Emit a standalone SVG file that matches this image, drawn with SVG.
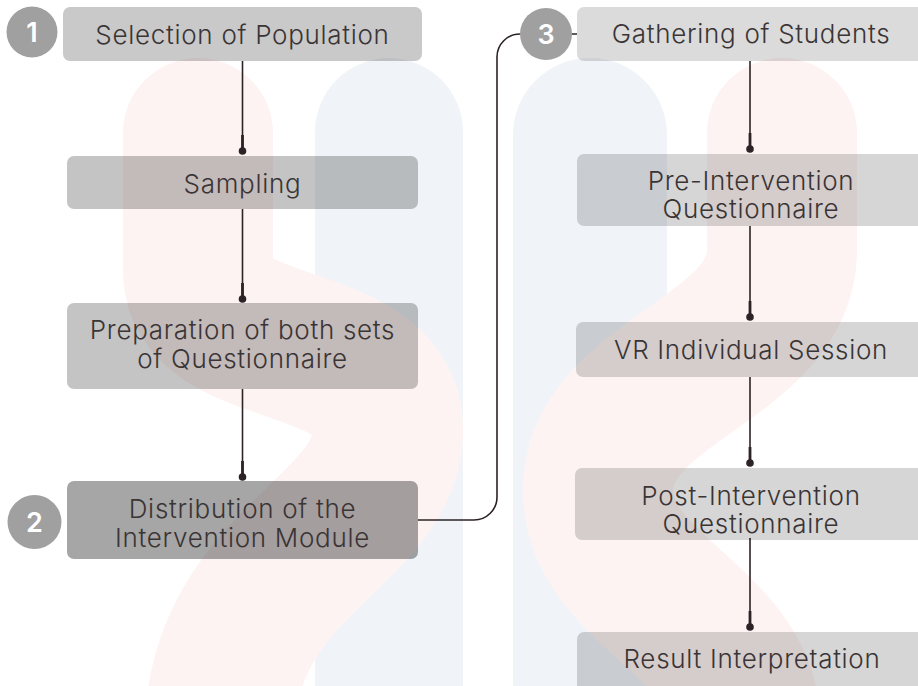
<svg xmlns="http://www.w3.org/2000/svg" width="918" height="686" viewBox="0 0 918 686">
  <style>
    .box { fill: #000; }
    .lbl { font-family: Inter, "Noto Sans", sans-serif; font-weight: 300; font-size: 26px; letter-spacing: 0.7px; fill: #3a3435; text-anchor: middle; }
    .num { fill: #a0a0a0; }
    .numt { font-family: Inter, "Liberation Sans", sans-serif; font-weight: 600; font-size: 27px; fill: #ffffff; text-anchor: middle; }
    .conn { fill: none; stroke: #2b2325; stroke-width: 1.6; }
    .pink { fill: none; stroke: #fef3f3; stroke-width: 150; stroke-linecap: round; }
    .blue { fill: #f0f4f8; }
  </style>
  <defs>
    <marker id="dot" markerUnits="userSpaceOnUse" viewBox="-20 -6 26 12" refX="0" refY="0" markerWidth="26" markerHeight="12" orient="auto">
      <rect x="-16" y="-1.4" width="16" height="2.8" fill="#2b2325"/>
      <circle cx="0" cy="0" r="3.8" fill="#2b2325"/>
    </marker>
  </defs>
  <rect width="918" height="686" fill="#ffffff"/>
  <g id="background">
    <rect class="blue" x="315" y="58" width="148" height="700" rx="74"/>
    <rect class="blue" x="513" y="58" width="154" height="700" rx="77"/>
    <path class="pink" d="M198,133 L198,270 C198,360 388,330 388,430 C388,530 230,560 220,720"/>
    <path class="pink" d="M782,133 L782,250 C782,360 598,380 598,490 C598,590 740,620 745,720"/>
  </g>
  <g id="connectors">
    <path class="conn" d="M242.5,61 V151" marker-end="url(#dot)"/>
    <path class="conn" d="M242.5,209 V299" marker-end="url(#dot)"/>
    <path class="conn" d="M242.5,389 V477" marker-end="url(#dot)"/>
    <path class="conn" d="M418,520 H474 A23,23 0 0 0 497,497 V57 A23,23 0 0 1 520,34 H577"/>
    <path class="conn" d="M750,61 V149" marker-end="url(#dot)"/>
    <path class="conn" d="M750,226 V317" marker-end="url(#dot)"/>
    <path class="conn" d="M750,377 V463" marker-end="url(#dot)"/>
    <path class="conn" d="M750,538 V627" marker-end="url(#dot)"/>
  </g>
  <g id="n1">
    <rect class="box" x="63" y="7" width="359" height="54" rx="7" fill-opacity="0.21"/>
    <text class="lbl" x="242.5" y="44">Selection of Population</text>
  </g>
  <g id="n2">
    <rect class="box" x="67" y="156" width="351" height="53" rx="7" fill-opacity="0.23"/>
    <text class="lbl" x="242.5" y="193">Sampling</text>
  </g>
  <g id="n3">
    <rect class="box" x="67" y="303" width="351" height="86" rx="7" fill-opacity="0.23"/>
    <text class="lbl" x="242.5" y="339">Preparation of both sets</text>
    <text class="lbl" x="242.5" y="368">of Questionnaire</text>
  </g>
  <g id="n4">
    <rect class="box" x="67" y="481" width="351" height="78" rx="7" fill-opacity="0.35"/>
    <text class="lbl" x="242.5" y="518">Distribution of the</text>
    <text class="lbl" x="242.5" y="547">Intervention Module</text>
  </g>
  <g id="n5">
    <rect class="box" x="577" y="7" width="360" height="54" rx="7" fill-opacity="0.14"/>
    <text class="lbl" x="751" y="43">Gathering of Students</text>
  </g>
  <g id="n6">
    <rect class="box" x="577" y="154" width="360" height="72" rx="7" fill-opacity="0.16"/>
    <text class="lbl" x="751" y="190">Pre-Intervention</text>
    <text class="lbl" x="751" y="218">Questionnaire</text>
  </g>
  <g id="n7">
    <rect class="box" x="576" y="322" width="360" height="55" rx="7" fill-opacity="0.16"/>
    <text class="lbl" x="751" y="359">VR Individual Session</text>
  </g>
  <g id="n8">
    <rect class="box" x="575" y="468" width="360" height="72" rx="7" fill-opacity="0.16"/>
    <text class="lbl" x="751" y="505">Post-Intervention</text>
    <text class="lbl" x="751" y="533">Questionnaire</text>
  </g>
  <g id="n9">
    <rect class="box" x="577" y="632" width="360" height="70" rx="7" fill-opacity="0.16"/>
    <text class="lbl" x="752" y="668">Result Interpretation</text>
  </g>
  <g id="b1">
    <circle class="num" cx="32" cy="32" r="25.5"/>
    <text class="numt" x="32" y="42">1</text>
  </g>
  <g id="b2">
    <circle class="num" cx="34.5" cy="522" r="27"/>
    <text class="numt" x="34.5" y="532">2</text>
  </g>
  <g id="b3">
    <circle class="num" cx="546" cy="34" r="26"/>
    <text class="numt" x="546" y="44">3</text>
  </g>
</svg>
